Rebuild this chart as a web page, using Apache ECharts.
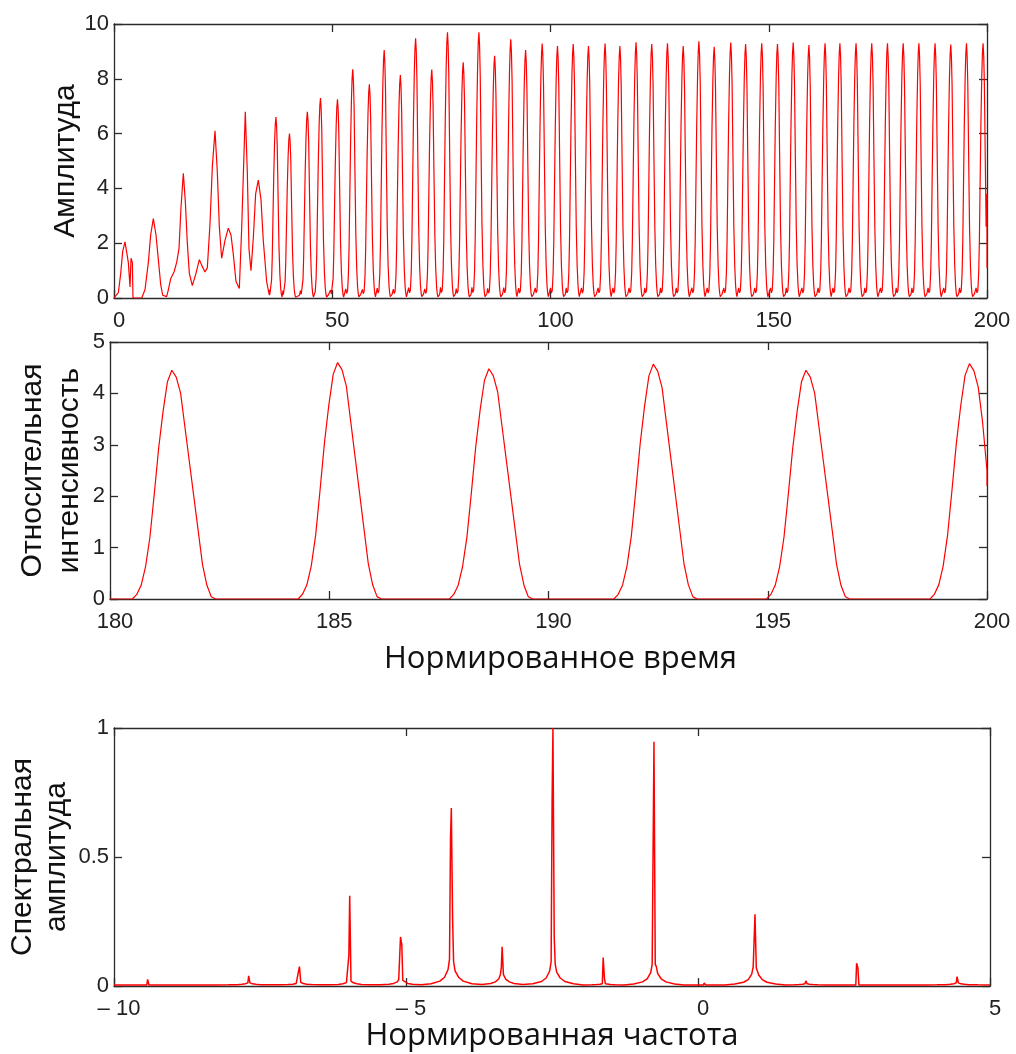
<!DOCTYPE html>
<html>
<head>
<meta charset="utf-8">
<script src="https://cdn.jsdelivr.net/npm/echarts@6/dist/echarts.min.js"></script>
<style>
html,body{margin:0;padding:0;background:#fff;}
#chart{width:1016px;height:1054px;}
</style>
</head>
<body>
<div id="chart"></div>
<script>
// ---------- Panel 1: amplitude vs normalized time (0..200) ----------
// irregular start-up segment, read point by point
const ampEarlyT = [0, 1.0, 1.54, 1.99, 2.52, 2.9, 3.28, 3.67, 3.9, 4.2, 4.35, 6.34, 7.1, 7.87, 8.4, 9.01, 9.62, 10.16, 10.69, 11.15, 12.06, 12.45, 12.98, 13.75, 14.36, 14.89, 15.35, 15.88, 16.35, 16.8, 17.26, 17.94, 18.78, 19.55, 20.08, 20.84, 21.38, 21.99, 22.53, 23.14, 23.67, 24.13, 24.66, 25.43, 26.19, 26.8, 27.33, 27.95, 28.71, 29.24, 29.63, 30.08, 30.54, 30.92, 31.38, 31.92, 32.45, 33.06, 33.67, 34.2, 34.97, 35.58];
const ampEarlyV = [0, 0.2, 0.9, 1.7, 2.05, 2.0, 1.3, 0.4, 1.45, 1.3, 0, 0, 0.3, 1.3, 2.3, 2.9, 2.3, 1.4, 0.5, 0.1, 0.05, 0.3, 0.7, 0.95, 1.3, 1.8, 3.3, 4.55, 3.5, 2.0, 0.9, 0.45, 0.9, 1.4, 1.2, 0.95, 1.1, 2.7, 4.8, 6.1, 4.6, 2.6, 1.45, 2.1, 2.55, 2.3, 1.6, 0.6, 0.35, 2.5, 4.5, 6.8, 4.6, 1.8, 1.0, 2.2, 3.8, 4.3, 3.6, 2.1, 0.6, 0.1];
// regular pulse train: peak times and peak heights
const ampPeakT = [37.1, 40.2, 44.3, 47.3, 51.2, 54.7, 58.5, 61.9, 65.6, 69.1, 72.8, 76.4, 80.0, 83.6, 87.2, 90.9, 94.3, 98.1, 101.6, 105.2, 108.7, 112.5, 115.9, 119.6, 123.2, 126.8, 130.4, 134.0, 137.5, 141.3, 144.7, 148.4, 152.0, 155.6, 159.2, 162.9, 166.3, 170.0, 173.6, 177.2, 180.8, 184.4, 188.1, 191.7, 195.3, 199.1];
const ampPeakH = [6.6, 6.0, 6.8, 7.3, 7.25, 8.35, 7.8, 9.05, 8.14, 9.48, 8.34, 9.7, 8.6, 9.7, 8.84, 9.44, 9.05, 9.29, 9.2, 9.27, 9.2, 9.29, 9.2, 9.33, 9.27, 9.3, 9.2, 9.37, 9.17, 9.32, 9.27, 9.3, 9.27, 9.32, 9.23, 9.3, 9.3, 9.3, 9.3, 9.3, 9.3, 9.3, 9.3, 9.25, 9.3, 9.3];
// relative profile of one amplitude pulse (offset from peak, fraction of peak)
const ampShapeOff = [-1.8, -1.6, -1.5, -1.4, -1.2, -1.0, -0.85, -0.7, -0.5, -0.3, -0.15, 0, 0.15, 0.3, 0.5, 0.7, 0.9, 1.1, 1.25, 1.4, 1.6, 1.8];
const ampShapeRel = [0.015, 0.04, 0.045, 0.02, 0.03, 0.1, 0.22, 0.42, 0.68, 0.87, 0.96, 1, 0.95, 0.84, 0.55, 0.28, 0.13, 0.05, 0.02, 0.005, 0.01, 0.015];
const ampEndT = [200, 200];
const ampEndV = [3.8, 1.1];

// ---------- Panel 2: relative intensity, 180..200 ----------
const intPeakT = [181.41, 185.19, 188.64, 192.39, 195.87, 199.6];
const intPeakH = [4.45, 4.6, 4.48, 4.57, 4.45, 4.58];
const intShapeOff = [-0.9, -0.8, -0.7, -0.6, -0.5, -0.4, -0.3, -0.2, -0.1, 0, 0.1, 0.2, 0.3, 0.4, 0.5, 0.6, 0.7, 0.8, 0.9, 1.0];
const intShapeRel = [0, 0.02, 0.06, 0.14, 0.27, 0.46, 0.66, 0.82, 0.95, 1, 0.97, 0.9, 0.75, 0.6, 0.45, 0.3, 0.15, 0.06, 0.01, 0];
const intEndT = [200, 200];
const intEndV = [2.5, 2.2];

// ---------- Panel 3: spectral amplitude vs normalized frequency ----------
const specPeakF = [-9.42, -8.56, -7.69, -6.82, -5.96, -5.09, -4.22, -3.35, -2.48, -1.62, -0.75, 0.11, 0.98, 1.85, 2.72, 3.58, 4.44];
const specPeakH = [0.026, 0.008, 0.039, 0.075, 0.35, 0.19, 0.69, 0.152, 1.0, 0.11, 0.947, 0.012, 0.278, 0.02, 0.088, 0.006, 0.036];
const specShL   = [0, 0, 0, 0.06, 0.12, 0, 0.57, 0.07, 0.72, 0, 0, 0, 0, 0, 0, 0, 0];
const specShR   = [0, 0, 0, 0, 0, 0.16, 0.26, 0, 0.19, 0.03, 0, 0, 0.07, 0, 0.07, 0, 0];
const specSkirt = [0, 0, 0.008, 0.01, 0.015, 0.02, 0.1, 0.04, 0.09, 0.005, 0.08, 0, 0.07, 0.005, 0, 0, 0.008];
const specBase = 0.004;
const skirtOff = [-0.35, -0.2, -0.12, -0.06, -0.035, 0.035, 0.06, 0.12, 0.2, 0.35];
const skirtRel = [0.05, 0.15, 0.3, 0.6, 1.0, 0.9, 0.55, 0.3, 0.15, 0.05];

// ---------- tick labels ----------
const ticks1X = [0, 50, 100, 150, 200];
const ticks1Y = [0, 2, 4, 6, 8, 10];
const ticks2X = [180, 185, 190, 195, 200];
const ticks2Y = [0, 1, 2, 3, 4, 5];
const ticks3X = [-10, -5, 0, 5];
const ticks3Y = [0, 0.5, 1];

// ---------- build series data ----------
function pulseTrain(startPts, peaksT, peaksH, off, rel, lo, hi) {
  const pts = startPts.slice();
  for (let i = 0; i < peaksT.length; i++) {
    const a = i === 0 ? lo : (peaksT[i - 1] + peaksT[i]) / 2;
    const b = i === peaksT.length - 1 ? hi : (peaksT[i] + peaksT[i + 1]) / 2;
    for (let k = 0; k < off.length; k++) {
      const t = peaksT[i] + off[k];
      if (t > a && t <= b && t < hi) pts.push([t, peaksH[i] * rel[k]]);
    }
  }
  return pts;
}

const ampData = pulseTrain(ampEarlyT.map((t, i) => [t, ampEarlyV[i]]), ampPeakT, ampPeakH, ampShapeOff, ampShapeRel, ampEarlyT[ampEarlyT.length - 1], 200);
ampEndT.forEach((t, i) => ampData.push([t, ampEndV[i]]));

const intData = pulseTrain([[180, 0]], intPeakT, intPeakH, intShapeOff, intShapeRel, 180, 200);
intEndT.forEach((t, i) => intData.push([t, intEndV[i]]));

const specData = [[-10, specBase]];
specPeakF.forEach((f, i) => {
  const s = specBase + specSkirt[i];
  for (let k = 0; k < 5; k++) specData.push([f + skirtOff[k], specBase + specSkirt[i] * skirtRel[k]]);
  specData.push([f - 0.018, specShL[i] > 0 ? specShL[i] : s]);
  specData.push([f - 0.004, specPeakH[i]]);
  specData.push([f + 0.004, specPeakH[i]]);
  specData.push([f + 0.018, specShR[i] > 0 ? specShR[i] : s]);
  for (let k = 5; k < 10; k++) specData.push([f + skirtOff[k], specBase + specSkirt[i] * skirtRel[k]]);
});
specData.push([5, specBase]);

// ---------- axes ----------
const frameColor = '#2b2b2b';
const labelFont = {fontFamily: 'Liberation Sans', fontSize: 22, color: '#222'};
const xTitleFont = {fontFamily: 'Open Sans', fontSize: 31, color: '#111'};

function axesFor(g, xt, yt, xname, xgap, xpad, yname, ygap, ylh, fmt) {
  const common = {gridIndex: g, splitLine: {show: false},
    axisLine: {show: true, onZero: false, lineStyle: {color: frameColor, width: 1.3}},
    axisTick: {show: true, inside: true, length: 8, lineStyle: {color: frameColor, width: 1.3}}};
  const xs = {min: xt[0], max: xt[xt.length - 1], interval: xt[1] - xt[0]};
  const ys = {min: yt[0], max: yt[yt.length - 1], interval: yt[1] - yt[0]};
  const xa = [
    Object.assign({type: 'value', position: 'bottom',
      axisLabel: Object.assign({margin: 12, padding: [0, 0, 0, 10], formatter: fmt}, labelFont),
      name: xname, nameLocation: 'middle', nameGap: xgap, nameMoveOverlap: false,
      nameTextStyle: Object.assign({padding: xpad}, xTitleFont)}, xs, common),
    Object.assign({type: 'value', position: 'top', axisLabel: {show: false}}, xs, common)
  ];
  const ya = [
    Object.assign({type: 'value', position: 'left', axisLabel: Object.assign({margin: 5}, labelFont),
      name: yname, nameLocation: 'middle', nameGap: ygap, nameRotate: 90, nameMoveOverlap: false,
      nameTextStyle: {fontFamily: 'Liberation Sans', fontSize: 30, color: '#111', lineHeight: ylh}}, ys, common),
    Object.assign({type: 'value', position: 'right', axisLabel: {show: false}}, ys, common)
  ];
  return {xa, ya};
}

const a1 = axesFor(0, ticks1X, ticks1Y, '', 0, 0, 'Амплитуда', 31, 35);
const a2 = axesFor(1, ticks2X, ticks2Y, 'Нормированное время', 45, [0, 0, 0, 24], 'Относительная\nинтенсивность', 22, 37);
const a3 = axesFor(2, ticks3X, ticks3Y, 'Нормированная частота', 35, 0, 'Спектральная\nамплитуда', 40, 34,
  v => v < 0 ? '\u2013 ' + Math.abs(v) : String(v));

const chart = echarts.init(document.getElementById('chart'), null, {renderer: 'canvas'});
chart.setOption({
  animation: false,
  backgroundColor: '#fff',
  grid: [
    {left: 114, top: 24, width: 873, height: 274, outerBoundsMode: 'none', containLabel: false},
    {left: 110, top: 342, width: 877, height: 257, outerBoundsMode: 'none', containLabel: false},
    {left: 114, top: 728, width: 876, height: 258, outerBoundsMode: 'none', containLabel: false}
  ],
  xAxis: [].concat(a1.xa, a2.xa, a3.xa),
  yAxis: [].concat(a1.ya, a2.ya, a3.ya),
  series: [
    {type: 'line', xAxisIndex: 0, yAxisIndex: 0, data: ampData, showSymbol: false, lineStyle: {color: '#ff0000', width: 1.2}, z: 5},
    {type: 'line', xAxisIndex: 2, yAxisIndex: 2, data: intData, showSymbol: false, lineStyle: {color: '#ff0000', width: 1.2}, z: 5},
    {type: 'line', xAxisIndex: 4, yAxisIndex: 4, data: specData, showSymbol: false, lineStyle: {color: '#ff0000', width: 1.5}, z: 5}
  ]
});
</script>
</body>
</html>
